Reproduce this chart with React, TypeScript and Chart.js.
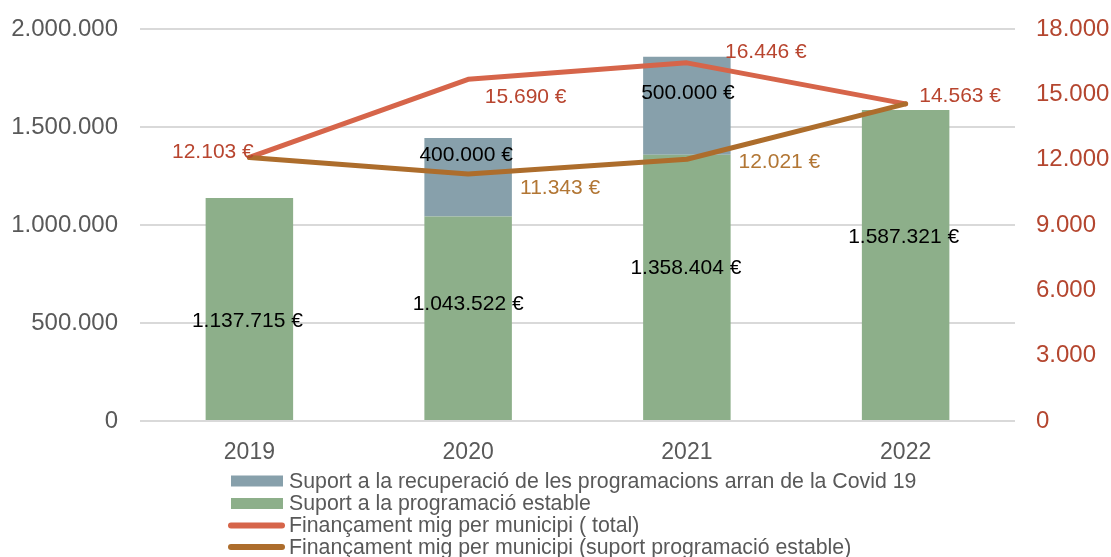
import React, { useEffect, useRef } from "react";
import { Chart, registerables } from "chart.js";

Chart.register(...registerables);

const years = ["2019", "2020", "2021", "2022"];
const covidSupport = [0, 400000, 500000, 0];
const stableSupport = [1137715, 1043522, 1358404, 1587321];
const avgTotal = [12103, 15690, 16446, 14563];
const avgStable = [12103, 11343, 12021, 14563];

const LABEL_COVID = "Suport a la recuperació de les programacions arran de la Covid 19";
const LABEL_STABLE = "Suport a la programació estable";
const LABEL_AVG_TOTAL = "Finançament mig per municipi ( total)";
const LABEL_AVG_STABLE = "Finançament mig per municipi (suport programació estable)";

const COLORS = {
  covid: "#87a0ab",
  stable: "#8daf8a",
  total: "#d6654a",
  stableLine: "#ad6d2c",
  totalText: "#b8452f",
  stableText: "#b27634",
  axisRight: "#b4462f",
  axisLeft: "#595959",
  grid: "#d9d9d9",
};

const FONT = "'Liberation Sans', Arial, sans-serif";

// label placement offsets (style), per dataset, per category: [dx, dy] or null (hidden)
const LABEL_OFFSETS: Record<string, ([number, number] | null)[]> = {
  stable: [[-2, 12], [0, -14.5], [-1, -19.5], [-2, -28]],
  covid: [null, [-2, -22], [1, -12.5], null],
  total: [[-36.5, -5], [57.5, 18], [79, -10.3], [54.5, -7.3]],
  stableLine: [null, [92, 14.3], [92.5, 2.5], null],
};

const fmt = (n: number) =>
  Math.round(n)
    .toString()
    .replace(/\B(?=(\d{3})+(?!\d))/g, ".");

const W = 1103;
const H = 549;

export default function App() {
  const ref = useRef<HTMLCanvasElement | null>(null);

  useEffect(() => {
    if (!ref.current) return;

    const labelPlugin = {
      id: "valueLabels",
      afterDatasetsDraw(chart: any) {
        const ctx = chart.ctx;
        ctx.save();
        ctx.font = `21px ${FONT}`;
        ctx.textAlign = "center";
        ctx.textBaseline = "middle";
        chart.data.datasets.forEach((ds: any, di: number) => {
          const meta = chart.getDatasetMeta(di);
          const offs = LABEL_OFFSETS[ds.key];
          meta.data.forEach((el: any, i: number) => {
            const off = offs ? offs[i] : null;
            if (!off) return;
            const v = ds.data[i];
            const x = el.x;
            let y = el.y;
            if (ds.type === "bar") {
              y = (el.y + el.base) / 2;
            }
            ctx.fillStyle = ds.labelColor;
            ctx.fillText(`${fmt(v)} €`, x + off[0], y + off[1]);
          });
        });
        ctx.restore();
      },
    };

    const legendPlugin = {
      id: "vertLegend",
      afterDraw(chart: any) {
        const ctx = chart.ctx;
        const ds = chart.data.datasets;
        const orderKeys = ["covid", "stable", "total", "stableLine"];
        const rowsY = [473, 495.5, 517.5, 539];
        ctx.save();
        ctx.font = `21.3px ${FONT}`;
        ctx.textBaseline = "middle";
        ctx.textAlign = "left";
        orderKeys.forEach((k, r) => {
          const d = ds.find((x: any) => x.key === k);
          const y = rowsY[r];
          if (d.type === "bar") {
            ctx.fillStyle = d.backgroundColor;
            ctx.fillRect(223, y - 5.5, 52, 11);
          } else {
            ctx.strokeStyle = d.borderColor;
            ctx.lineWidth = 6;
            ctx.lineCap = "round";
            ctx.beginPath();
            ctx.moveTo(223, y);
            ctx.lineTo(274, y);
            ctx.stroke();
          }
          ctx.fillStyle = COLORS.axisLeft;
          ctx.fillText(d.label, 281, y + 1);
        });
        ctx.restore();
      },
    };

    const noPad = (s: any) => {
      s.paddingTop = 0;
      s.paddingBottom = 0;
      s.paddingLeft = 0;
      s.paddingRight = 0;
    };

    const chart = new Chart(ref.current, {
      type: "bar",
      data: {
        labels: years,
        datasets: [
          {
            key: "stable",
            type: "bar",
            label: LABEL_STABLE,
            data: stableSupport,
            backgroundColor: COLORS.stable,
            labelColor: "#000000",
            yAxisID: "y",
            stack: "s",
            order: 2,
            categoryPercentage: 1,
            barPercentage: 0.4,
          } as any,
          {
            key: "covid",
            type: "bar",
            label: LABEL_COVID,
            data: covidSupport,
            backgroundColor: COLORS.covid,
            labelColor: "#000000",
            yAxisID: "y",
            stack: "s",
            order: 2,
            categoryPercentage: 1,
            barPercentage: 0.4,
          } as any,
          {
            key: "total",
            type: "line",
            label: LABEL_AVG_TOTAL,
            data: avgTotal,
            borderColor: COLORS.total,
            backgroundColor: COLORS.total,
            labelColor: COLORS.totalText,
            borderWidth: 5,
            pointRadius: 0,
            borderJoinStyle: "round",
            borderCapStyle: "round",
            tension: 0,
            yAxisID: "y1",
            order: 1,
          } as any,
          {
            key: "stableLine",
            type: "line",
            label: LABEL_AVG_STABLE,
            data: avgStable,
            borderColor: COLORS.stableLine,
            backgroundColor: COLORS.stableLine,
            labelColor: COLORS.stableText,
            borderWidth: 5,
            pointRadius: 0,
            borderJoinStyle: "round",
            borderCapStyle: "round",
            tension: 0,
            yAxisID: "y1",
            order: 0,
          } as any,
        ],
      },
      options: {
        responsive: false,
        animation: false,
        layout: { padding: { top: 21, bottom: 76, left: 0, right: 0 } },
        plugins: {
          legend: { display: false },
          tooltip: { enabled: false },
        },
        scales: {
          x: {
            stacked: true,
            grid: { display: false },
            border: { display: false },
            ticks: {
              color: COLORS.axisLeft,
              font: { size: 23, family: FONT },
              padding: 10,
            },
            afterFit: (s: any) => {
              s.height = 60;
              noPad(s);
            },
          },
          y: {
            stacked: true,
            position: "left",
            min: 0,
            max: 2000000,
            grid: { color: COLORS.grid, lineWidth: 2, drawTicks: false },
            border: { display: false },
            ticks: {
              stepSize: 500000,
              color: COLORS.axisLeft,
              font: { size: 24, family: FONT },
              padding: 22,
              callback: (v: any) => fmt(Number(v)),
            },
            afterFit: (s: any) => {
              s.width = 132;
              noPad(s);
            },
          },
          y1: {
            position: "right",
            min: 0,
            max: 18000,
            grid: { display: false, drawTicks: false },
            border: { display: false },
            ticks: {
              stepSize: 3000,
              color: COLORS.axisRight,
              font: { size: 24, family: FONT },
              padding: 21,
              callback: (v: any) => fmt(Number(v)),
            },
            afterFit: (s: any) => {
              s.width = 96;
              noPad(s);
            },
          },
        },
      } as any,
      plugins: [labelPlugin, legendPlugin],
    });

    return () => chart.destroy();
  }, []);

  return (
    <div style={{ position: "fixed", left: 8, top: 8, width: W, height: H }}>
      <canvas ref={ref} width={W} height={H} style={{ width: W, height: H, display: "block" }} />
    </div>
  );
}
